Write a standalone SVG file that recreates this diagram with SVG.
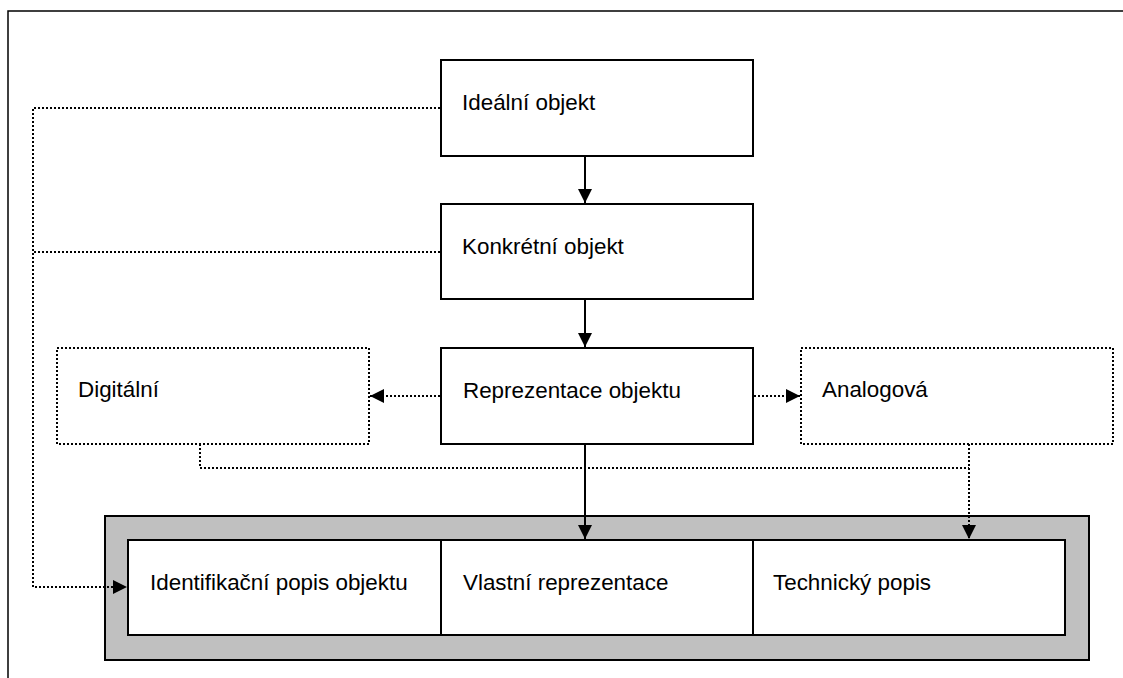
<svg xmlns="http://www.w3.org/2000/svg" width="1123" height="678" viewBox="0 0 1123 678">
<style>
.solid{fill:#fff;stroke:#000;stroke-width:2}
.dotbox{fill:#fff;stroke:#000;stroke-width:2;stroke-dasharray:2 2}
.dot{fill:none;stroke:#000;stroke-width:2;stroke-dasharray:2 2}
.line{fill:none;stroke:#000;stroke-width:2}
.gray{fill:#c0c0c0;stroke:#000;stroke-width:2}
text{font-family:"Liberation Sans",Arial,sans-serif;font-size:22.4px;fill:#000}
</style>
<defs>
<marker id="ah" viewBox="0 0 14 14" refX="14" refY="7" markerWidth="14" markerHeight="14" markerUnits="userSpaceOnUse" orient="auto">
<path d="M0,0 L14,7 L0,14 Z" fill="#000"/>
</marker>
</defs>
<rect width="1123" height="678" fill="#fff"/>
<g id="frame">
<path d="M8,678 V11 H1123" fill="none" stroke="#000" stroke-width="1.5"/>
</g>
<g id="container">
<rect class="gray" x="105" y="516" width="984" height="144"/>
</g>
<g id="node-ideal">
<rect class="solid" x="441" y="60" width="312" height="96"/>
<text x="462" y="110">Ideální objekt</text>
</g>
<g id="node-konkretni">
<rect class="solid" x="441" y="204" width="312" height="95"/>
<text x="462" y="254">Konkrétní objekt</text>
</g>
<g id="node-reprezentace">
<rect class="solid" x="441" y="348" width="312" height="96"/>
<text x="463" y="398">Reprezentace objektu</text>
</g>
<g id="node-digitalni">
<rect class="dotbox" x="57" y="348" width="312" height="96"/>
<text x="78" y="397">Digitální</text>
</g>
<g id="node-analogova">
<rect class="dotbox" x="801" y="348" width="312" height="96"/>
<text x="822" y="397">Analogová</text>
</g>
<g id="node-identifikacni">
<rect class="solid" x="128" y="540" width="313" height="95"/>
<text x="150" y="590">Identifikační popis objektu</text>
</g>
<g id="node-vlastni">
<rect class="solid" x="441" y="540" width="312" height="95"/>
<text x="463" y="590">Vlastní reprezentace</text>
</g>
<g id="node-technicky">
<rect class="solid" x="753" y="540" width="312" height="95"/>
<text x="773" y="590">Technický popis</text>
</g>
<g id="connectors">
<path class="line" d="M585,156 V203" marker-end="url(#ah)"/>
<path class="line" d="M585,299 V347" marker-end="url(#ah)"/>
<path class="line" d="M585,444 V539" marker-end="url(#ah)"/>
<path class="dot" d="M440,396 H370" marker-end="url(#ah)"/>
<path class="dot" d="M754,396 H800" marker-end="url(#ah)"/>
<path class="dot" d="M440,108 H33 V587 H127" marker-end="url(#ah)"/>
<path class="dot" d="M440,252 H33"/>
<path class="dot" d="M200,444 V468 H969"/>
<path class="dot" d="M969,444 V539" marker-end="url(#ah)"/>
</g>
</svg>
